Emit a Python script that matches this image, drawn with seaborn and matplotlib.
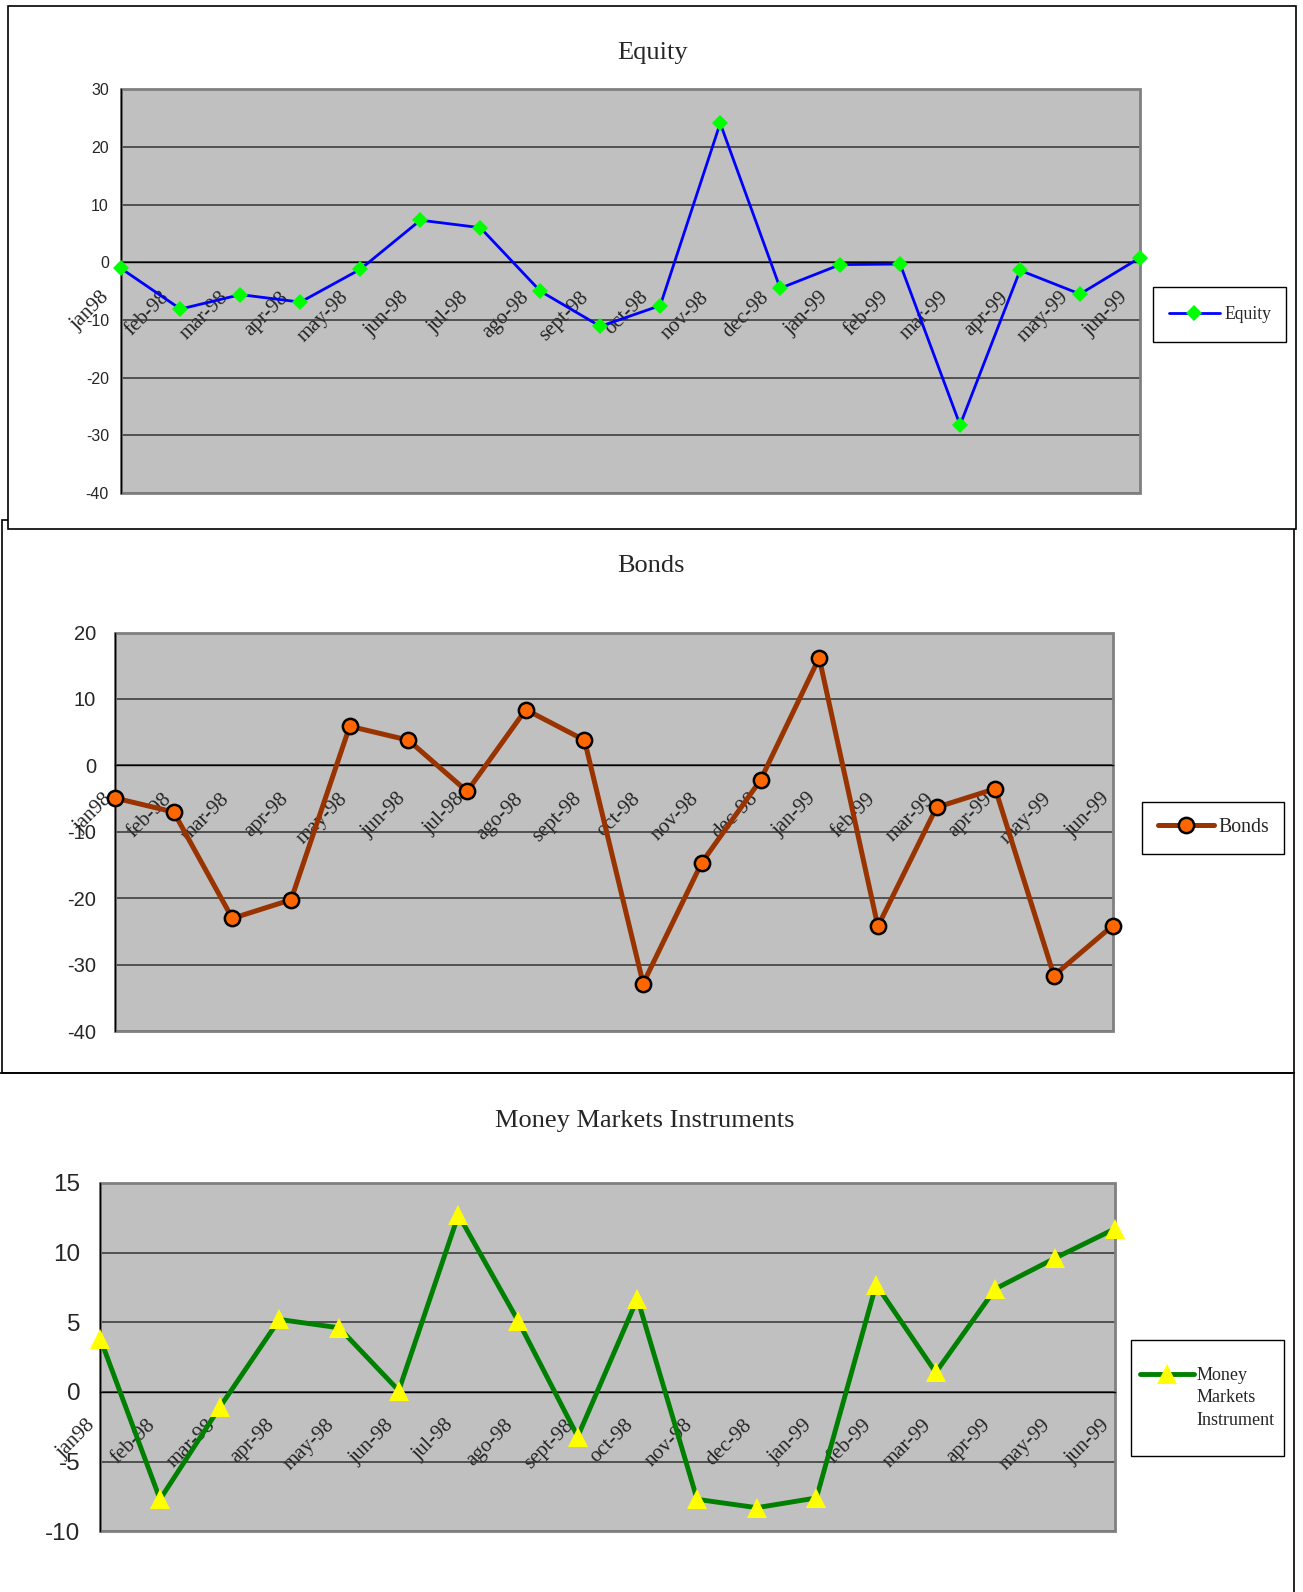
import numpy as np
import pandas as pd
import matplotlib
matplotlib.use('Agg')
import matplotlib.pyplot as plt
import matplotlib.transforms as mtransforms
from matplotlib.patches import Rectangle
from matplotlib.lines import Line2D
import seaborn as sns

# data
months = ['jan98', 'feb-98', 'mar-98', 'apr-98', 'may-98', 'jun-98', 'jul-98', 'ago-98', 'sept-98',
          'oct-98', 'nov-98', 'dec-98', 'jan-99', 'feb-99', 'mar-99', 'apr-99', 'may-99', 'jun-99']
equity = [-1.0, -8.1, -5.6, -6.9, -1.2, 7.3, 6.0, -5.0, -11.1, -7.5, 24.1, -4.5, -0.4, -0.3, -28.2, -1.4, -5.5, 0.8]
bonds = [-4.9, -7.0, -23.0, -20.2, 5.9, 3.8, -3.9, 8.4, 3.8, -32.8, -14.6, -2.2, 16.2, -24.2, -6.3, -3.5, -31.6, -24.1]
money = [3.8, -7.7, -1.1, 5.2, 4.6, 0.1, 12.7, 5.1, -3.2, 6.7, -7.7, -8.3, -7.6, 7.7, 1.4, 7.4, 9.6, 11.7]

equity_ticks = [-40, -30, -20, -10, 0, 10, 20, 30]
bonds_ticks = [-40, -30, -20, -10, 0, 10, 20]
money_ticks = [-10, -5, 0, 5, 10, 15]
money_legend = ['Money', 'Markets', 'Instrument']

W, H = 1303, 1592
sns.set_style('white')
plt.rcParams['font.family'] = ['Liberation Serif', 'DejaVu Serif']
plt.rcParams['axes.unicode_minus'] = False

fig = plt.figure(figsize=(W / 100, H / 100), dpi=100)


def fx(px):
    return px / W


def fy(py):
    return 1 - py / H


def fig_box(x0, y0, x1, y1, **kw):
    r = Rectangle((fx(x0), fy(y1)), fx(x1) - fx(x0), fy(y0) - fy(y1),
                  transform=fig.transFigure, **kw)
    fig.add_artist(r)


# panel frames
fig_box(2, 520, 1294, 1073, fill=False, ec='black', lw=1.2, zorder=-2)
fig_box(8, 6, 1296, 529, fc='white', ec='black', lw=1.2, zorder=-1)
fig.add_artist(Line2D([0, fx(1294)], [fy(1073), fy(1073)], transform=fig.transFigure, color='black', lw=1.2, zorder=-2))
fig.add_artist(Line2D([fx(1294), fx(1294)], [fy(1073), 0], transform=fig.transFigure, color='black', lw=1.2, zorder=-2))


def panel(col, values, rect, yticks, ysize, ylen, ypad, xdx, xpad, line_kw):
    x0, y0, x1, y1 = rect
    ax = fig.add_axes([fx(x0), fy(y1), fx(x1) - fx(x0), fy(y0) - fy(y1)])
    df = pd.DataFrame({'pos': np.arange(len(months)), col: values})
    sns.lineplot(data=df, x='pos', y=col, ax=ax, legend=False, clip_on=False, zorder=3, **line_kw)
    ax.set_facecolor('#C0C0C0')
    ax.set_xlim(0, len(months) - 1)
    ax.set_ylim(yticks[0], yticks[-1])
    ax.set_yticks(yticks)
    ax.set_xticks(df['pos'], months)
    ax.set_xlabel('')
    ax.set_ylabel('')
    ax.spines['top'].set_visible(False)
    ax.spines['right'].set_visible(False)
    ax.spines['bottom'].set_position(('data', 0))
    for s in ['bottom', 'left']:
        ax.spines[s].set_color('black')
        ax.spines[s].set_linewidth(1)
    ax.add_patch(Rectangle((0, 0), 1, 1, transform=ax.transAxes, fill=False,
                           ec='#808080', lw=2, zorder=2.4, clip_on=False))
    ax.yaxis.grid(True, color='#333333', lw=1.1)
    ax.set_axisbelow(True)
    ax.tick_params(axis='y', direction='out', length=ylen, width=1, pad=ypad, labelsize=ysize, color='black')
    ax.tick_params(axis='x', direction='out', length=4, width=1, pad=xpad, color='black')
    for lab in ax.get_yticklabels():
        lab.set_fontfamily(['Liberation Sans', 'DejaVu Sans'])
    shift = mtransforms.ScaledTranslation(xdx / 100, 0, fig.dpi_scale_trans)
    for lab in ax.get_xticklabels():
        lab.set_rotation(45)
        lab.set_ha('right')
        lab.set_va('top')
        lab.set_rotation_mode('anchor')
        lab.set_fontsize(15)
        lab.set_transform(lab.get_transform() + shift)
    return ax


# Equity
ax1 = panel('Equity', equity, (120.5, 89.2, 1140, 493.1), equity_ticks, 11.5, 4, 4.3, -21, 14.5,
            dict(color='#0000FF', lw=2, marker='D', markersize=8.2,
                 markerfacecolor='#00FF00', markeredgecolor='#00FF00', markeredgewidth=0))
fig.text(fx(652.7), fy(59.2), 'Equity', ha='center', va='baseline', fontsize=19)
fig_box(1152.5, 287.5, 1286, 341.6, fill=False, ec='black', lw=1)
ax1.legend(handles=ax1.get_lines()[:1], labels=['Equity'], loc='center left',
           bbox_to_anchor=(fx(1168.6), fy(314.5)), bbox_transform=fig.transFigure,
           frameon=False, borderpad=0, borderaxespad=0, handlelength=2.9, handletextpad=0.25,
           fontsize=12.7)

# Bonds
ax2 = panel('Bonds', bonds, (115, 632.5, 1112.6, 1031.4), bonds_ticks, 14.5, 4.8, 8.9, -12, 13.2,
            dict(color='#993300', lw=3.6, marker='o', markersize=11,
                 markerfacecolor='#FF6600', markeredgecolor='black', markeredgewidth=1.8))
fig.text(fx(650.6), fy(571.8), 'Bonds', ha='center', va='baseline', fontsize=19)
fig_box(1141.7, 802, 1283.9, 854, fill=False, ec='black', lw=1)
ax2.legend(handles=ax2.get_lines()[:1], labels=['Bonds'], loc='center left',
           bbox_to_anchor=(fx(1158), fy(827)), bbox_transform=fig.transFigure,
           frameon=False, borderpad=0, borderaxespad=0, handlelength=2.8, handletextpad=0.25,
           fontsize=14.3)

# Money Markets Instruments
ax3 = panel('Money', money, (100.4, 1182.8, 1114.8, 1531.4), money_ticks, 17.5, 5.8, 8.6, -14, 13.2,
            dict(color='#008000', lw=3.5, marker='^', markersize=15,
                 markerfacecolor='#FFFF00', markeredgecolor='#FFFF00', markeredgewidth=0))
fig.text(fx(644.9), fy(1127.3), 'Money Markets Instruments', ha='center', va='baseline', fontsize=19)
fig_box(1131, 1340, 1284, 1456, fill=False, ec='black', lw=1)
blank = [Line2D([], [], lw=0, alpha=0) for _ in money_legend[1:]]
ax3.legend(handles=ax3.get_lines()[:1] + blank, labels=money_legend, loc='center left',
           bbox_to_anchor=(fx(1140), fy(1398)), bbox_transform=fig.transFigure,
           frameon=False, borderpad=0, borderaxespad=0, handlelength=3.0, handletextpad=0.12,
           labelspacing=0.3, fontsize=13.0)

fig.savefig('out.png', dpi=100)
